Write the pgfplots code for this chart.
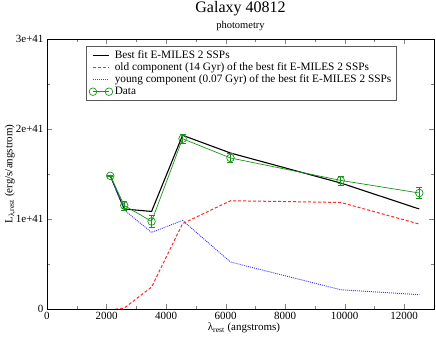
\documentclass[border=0pt]{standalone}
\usepackage{fontspec}
\setmainfont{Liberation Serif}
\usepackage{pgfplots}
\pgfplotsset{compat=1.18}
\definecolor{dataGreen}{RGB}{20,150,20}
\definecolor{legGray}{RGB}{90,90,90}
\definecolor{oldRed}{RGB}{255,40,40}
\definecolor{youngBlue}{RGB}{60,60,255}

% values in units of 1e+41 erg/s/angstrom
\pgfplotstableread{
x      y      err
2125   1.480  0.005
2594   1.151  0.05
3513   0.973  0.065
4554   1.892  0.05
6164   1.678  0.05
9866   1.429  0.05
12506  1.289  0.06
}\obsdata

\pgfplotstableread{
x      fit    old     young
2125   1.480  -0.010  1.490
2594   1.111   0.010  1.100
3513   1.084   0.244  0.851
4554   1.930   0.948  0.984
6164   1.733   1.203  0.522
9866   1.400   1.184  0.214
12506  1.111   0.944  0.159
}\fitdata

\begin{document}
\begin{tikzpicture}
\useasboundingbox (-47pt,-30pt) rectangle (389pt,309pt);
\begin{axis}[
    scale only axis,
    width=387pt, height=270pt,
    at={(0,0)}, anchor=south west,
    xmin=0, xmax=13000, ymin=0, ymax=3,
    xtick={0,2000,...,12000}, minor x tick num=1,
    ytick={0,1,2,3}, yticklabels={0,1e+41,2e+41,3e+41},
    minor y tick num=1,
    tick align=inside,
    major tick length=5pt, minor tick length=3pt,
    scaled x ticks=false,
    /pgf/number format/1000 sep={},
    /pgf/number format/assume math mode=true,
    tick label style={font=\fontsize{11}{13}\selectfont},
    axis line style={line width=0.8pt},
    clip=true,
    legend style={at={(0.1,0.974)}, anchor=north west, draw=legGray,
        line width=0.9pt, font=\fontsize{11.3}{13}\selectfont,
        cells={anchor=west}, row sep=-1.2pt, inner xsep=3pt, inner ysep=2pt},
    legend image code/.code={
        \draw[mark repeat=2, mark phase=1] plot coordinates {(0pt,0pt) (8pt,0pt) (16pt,0pt)};},
]
\addplot[color=black, line width=1.1pt, mark=none] table[x=x, y=fit] {\fitdata};
\addlegendentry{Best fit E-MILES 2 SSPs}
\addplot[color=oldRed, line width=1pt, dash pattern=on 3pt off 2pt, mark=none,
    legend image code/.code={
        \draw[oldRed, line width=1.3pt, solid]
        (0pt,0pt)--(3pt,0pt) (5pt,0pt)--(8pt,0pt) (10pt,0pt)--(13pt,0pt) (15pt,0pt)--(16pt,0pt);}]
    table[x=x, y=old] {\fitdata};
\addlegendentry{old component (14 Gyr) of the best fit E-MILES 2 SSPs}
\addplot[color=youngBlue, line width=0.9pt, dash pattern=on 1pt off 1pt, mark=none,
    legend image code/.code={
        \draw[youngBlue, line width=1.3pt, solid]
        (0pt,0pt)--(1pt,0pt) (2pt,0pt)--(3pt,0pt) (4pt,0pt)--(5pt,0pt) (6pt,0pt)--(7pt,0pt)
        (8pt,0pt)--(9pt,0pt) (10pt,0pt)--(11pt,0pt) (12pt,0pt)--(13pt,0pt) (14pt,0pt)--(15pt,0pt);}]
    table[x=x, y=young] {\fitdata};
\addlegendentry{young component (0.07 Gyr) of the best fit E-MILES 2 SSPs}
\addplot[color=dataGreen, line width=0.7pt, mark=o, mark size=3.8pt,
    mark options={solid, line width=0.7pt},
    error bars/.cd, y dir=both, y explicit,
    error bar style={dataGreen, line width=0.7pt},
    error mark options={dataGreen, mark size=3pt, rotate=90, line width=0.7pt}]
    table[x=x, y=y, y error=err] {\obsdata};
\addlegendentry{Data}
\end{axis}
\node[font=\fontsize{16}{19}\selectfont] at (193.5pt,300pt) {Galaxy 40812};
\node[font=\fontsize{10.5}{12}\selectfont] at (193.5pt,283pt) {photometry};
\node[font=\fontsize{11}{13}\selectfont] at (197pt,-19pt) {λ\textsubscript{rest} (angstroms)};
\node[font=\fontsize{11}{13}\selectfont, rotate=90] at (-37pt,135pt) {L\textsubscript{λ,rest} (erg/s/angstrom)};
\end{tikzpicture}
\end{document}
